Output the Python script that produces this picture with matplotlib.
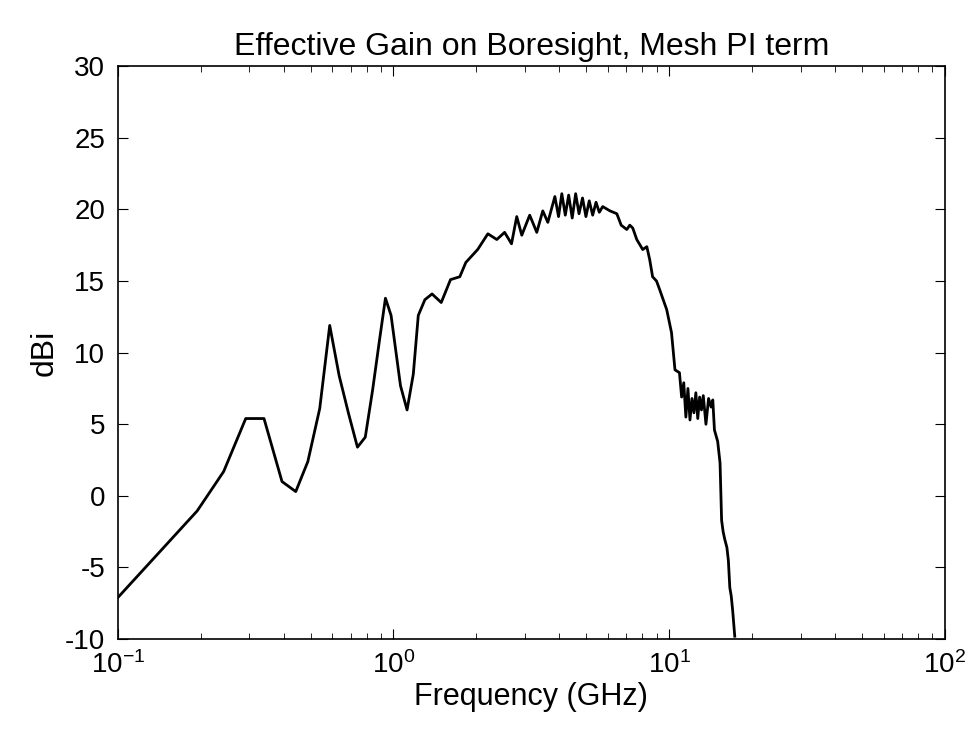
import numpy as np
import matplotlib.pyplot as plt

plt.rcParams['font.family'] = ['Liberation Sans', 'DejaVu Sans']
plt.rcParams['axes.unicode_minus'] = False

# values
freq_low = [0.1, 0.194, 0.242, 0.291, 0.339, 0.394, 0.442, 0.489, 0.54, 0.587, 0.635,
            0.688, 0.74, 0.79, 0.84, 0.89, 0.935, 0.98, 1.06, 1.12, 1.18, 1.23, 1.30,
            1.38, 1.49, 1.61, 1.74, 1.83, 2.02, 2.20, 2.37, 2.53, 2.68, 2.80, 2.92,
            3.12, 3.31, 3.48, 3.63]
gain_low = [-7.1, -1.05, 1.7, 5.4, 5.4, 1.0, 0.3, 2.4, 6.1, 11.9, 8.4,
            5.7, 3.4, 4.1, 7.4, 10.9, 13.8, 12.6, 7.7, 6.0, 8.5, 12.6, 13.7,
            14.1, 13.5, 15.1, 15.3, 16.3, 17.2, 18.3, 17.9, 18.4, 17.6, 19.5, 18.2,
            19.6, 18.4, 19.9, 19.1]

freq_peak = [3.85, 3.97, 4.08, 4.2, 4.32, 4.45, 4.58, 4.71, 4.85, 4.99, 5.13, 5.28,
             5.43, 5.58, 5.74]
gain_peak = [20.9, 19.5, 21.1, 19.6, 21.0, 19.4, 21.1, 19.7, 20.8, 19.5, 20.6, 19.6,
             20.5, 19.8, 20.2]

freq_mid = [6.1, 6.46, 6.7, 7.02, 7.2, 7.38, 7.63, 8.02, 8.3, 8.50, 8.71, 9.0, 9.24,
            9.80, 10.2, 10.5, 10.9]
gain_mid = [19.9, 19.7, 18.9, 18.6, 18.9, 18.7, 17.9, 17.2, 17.4, 16.5, 15.3, 15.0,
            14.4, 13.0, 11.4, 8.8, 8.6]

freq_noisy = [11.1, 11.3, 11.5, 11.7, 11.9, 12.1, 12.3, 12.5, 12.7, 12.9, 13.1, 13.3,
              13.6, 13.9, 14.2, 14.4]
gain_noisy = [6.9, 7.9, 5.5, 7.5, 5.3, 6.8, 5.8, 7.2, 5.4, 6.9, 6.0, 7.0, 5.0, 6.8,
              6.2, 6.7]

freq_drop = [14.6, 15.0, 15.3, 15.5, 15.7, 15.9, 16.2, 16.4, 16.6, 16.8, 17.0, 17.3]
gain_drop = [4.6, 3.8, 2.3, -1.7, -2.5, -3.0, -3.6, -4.5, -6.4, -7.0, -8.0, -9.8]

freq = freq_low + freq_peak + freq_mid + freq_noisy + freq_drop
gain = gain_low + gain_peak + gain_mid + gain_noisy + gain_drop

fig = plt.figure(figsize=(9.74, 7.44), dpi=100)
ax = fig.add_axes([0.121, 0.141, 0.849, 0.770])
ax.semilogx(freq, gain, color='black', linewidth=2)
ax.set_xlim(0.1, 100)
ax.set_ylim(-10, 30)
ax.set_yticks(np.arange(-10, 31, 5))
ax.tick_params(which='both', direction='in', top=True, right=True, labelsize=20)
ax.tick_params(which='major', length=7, pad=9)
ax.tick_params(which='minor', length=4)
for s in ax.spines.values():
    s.set_linewidth(1.2)
ax.set_title('Effective Gain on Boresight, Mesh PI term', fontsize=23, pad=8)
ax.set_xlabel('Frequency (GHz)', fontsize=22, labelpad=2)
ax.set_ylabel('dBi', fontsize=23)
fig.savefig('out.png', dpi=100)
